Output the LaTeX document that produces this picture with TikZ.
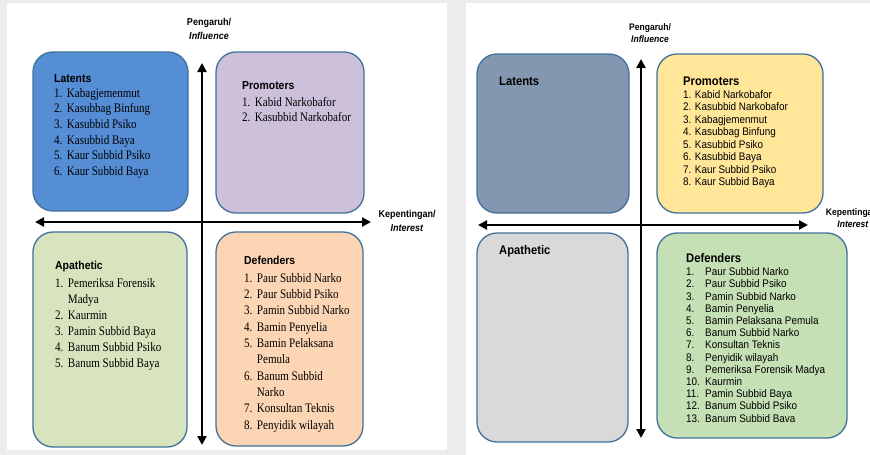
\documentclass[tikz,border=0pt]{standalone}
\usepackage{fontspec}
\setmainfont{Liberation Serif}[FakeStretch=0.85]
\setsansfont{Liberation Sans}[FakeStretch=0.9]
\usetikzlibrary{arrows.meta,positioning,calc}

\definecolor{bggray}{HTML}{ECECEC}
\definecolor{qline}{HTML}{41719C}
\definecolor{latL}{HTML}{558ED5}
\definecolor{proL}{HTML}{CCC0DA}
\definecolor{apaL}{HTML}{D7E4BD}
\definecolor{defL}{HTML}{FCD5B5}
\definecolor{latR}{HTML}{8497B0}
\definecolor{proR}{HTML}{FFE699}
\definecolor{apaR}{HTML}{D9D9D9}
\definecolor{defR}{HTML}{C5E0B4}

\begin{document}
\begin{tikzpicture}[
  x=1pt, y=-1pt,
  quad/.style={rectangle, draw=qline, line width=1.3pt, rounded corners=20pt, inner sep=0pt},
  hdrL/.style={anchor=base west, inner sep=0pt, font=\sffamily\bfseries\fontsize{11.6}{14}\selectfont},
  hdrR/.style={anchor=base west, inner sep=0pt, font=\sffamily\bfseries\fontsize{12.5}{15}\selectfont},
  lstL/.style={anchor=base west, inner sep=0pt, font=\fontsize{13}{#1}\selectfont},
  lstL/.default=15.6,
  lstR/.style={anchor=base west, inner sep=0pt, font=\sffamily\fontsize{11}{#1}\selectfont},
  lstR/.default=12.5,
  axlbl/.style={align=center, inner sep=0pt, font=\sffamily\bfseries\fontsize{10}{14.5}\selectfont},
  axlblR/.style={align=center, inner sep=0pt, font=\sffamily\bfseries\fontsize{9.5}{12}\selectfont},
  axis/.style={<->, >={Triangle[length=9pt,width=9pt]}, line width=2.4pt}
]
  \useasboundingbox (0,0) rectangle (870,455);
  % Background and the two panels
  \fill[bggray] (0,0) rectangle (870,455);
  \fill[white] (7,3) rectangle (447,450);
  \fill[white] (466,3) rectangle (870,455);

  % ---------------- Left panel ----------------
  \node[quad, fill=latL, minimum width=155pt, minimum height=159pt] (latl) at (110.5,131.5) {};
  \node[quad, fill=proL, minimum width=148pt, minimum height=161pt] (prol) at (290,132.5) {};
  \node[quad, fill=apaL, minimum width=154pt, minimum height=215pt] (apal) at (110,339.5) {};
  \node[quad, fill=defL, minimum width=147pt, minimum height=214pt] (defl) at (289.5,339) {};
  % Axes
  \coordinate (lUp) at (202,63);
  \coordinate (lDown) at (202,445);
  \coordinate (lLeft) at (35,222);
  \coordinate (lRight) at (371,222);
  \draw[axis] (lDown) -- (lUp);
  \draw[axis] (lLeft) -- (lRight);
  \node[axlbl] (inflL) at (209,29) {Pengaruh/\\\textit{Influence}};
  \node[axlbl] (intL) at (407,221) {Kepentingan/\\\textit{Interest}};
  % Quadrant texts
  \node[hdrL] (latlHdr) at (54,82) {Latents};
  \node[lstL] (latlLst) at (54,97.3) {\begin{tabular}[t]{@{}l@{\hspace{4.5pt}}l@{}}
    1.&Kabagjemenmut\\ 2.&Kasubbag Binfung\\ 3.&Kasubbid Psiko\\
    4.&Kasubbid Baya\\ 5.&Kaur Subbid Psiko\\ 6.&Kaur Subbid Baya\end{tabular}};
  \node[hdrL] (prolHdr) at (242,89) {Promoters};
  \node[lstL] (prolLst) at (242,106) {\begin{tabular}[t]{@{}l@{\hspace{4.5pt}}l@{}}
    1.&Kabid Narkobafor\\ 2.&Kasubbid Narkobafor\end{tabular}};
  \node[hdrL] (apalHdr) at (55,269.5) {Apathetic};
  \node[lstL=16.1] (apalLst) at (55,287.3) {\begin{tabular}[t]{@{}l@{\hspace{4.5pt}}l@{}}
    1.&Pemeriksa Forensik\\ &Madya\\ 2.&Kaurmin\\ 3.&Pamin Subbid Baya\\
    4.&Banum Subbid Psiko\\ 5.&Banum Subbid Baya\end{tabular}};
  \node[hdrL] (deflHdr) at (244,264) {Defenders};
  \node[lstL=16.3] (deflLst) at (244,282.3) {\begin{tabular}[t]{@{}l@{\hspace{4.5pt}}l@{}}
    1.&Paur Subbid Narko\\ 2.&Paur Subbid Psiko\\ 3.&Pamin Subbid Narko\\
    4.&Bamin Penyelia\\ 5.&Bamin Pelaksana\\ &Pemula\\ 6.&Banum Subbid\\ &Narko\\
    7.&Konsultan Teknis\\ 8.&Penyidik wilayah\end{tabular}};

  % ---------------- Right panel ----------------
  \node[quad, fill=latR, minimum width=152pt, minimum height=159pt] (latr) at (553,133.5) {};
  \node[quad, fill=proR, minimum width=166pt, minimum height=159pt] (pror) at (740,133.5) {};
  \node[quad, fill=apaR, minimum width=151pt, minimum height=209pt] (apar) at (552.5,337.5) {};
  \node[quad, fill=defR, minimum width=190pt, minimum height=205pt] (defr) at (752,335.5) {};
  % Axes
  \coordinate (rUp) at (641,59);
  \coordinate (rDown) at (641,438);
  \coordinate (rLeft) at (478,225);
  \coordinate (rRight) at (808,225);
  \draw[axis] (rDown) -- (rUp);
  \draw[axis] (rLeft) -- (rRight);
  \node[axlblR] (inflR) at (650,33) {Pengaruh/\\\textit{Influence}};
  \node[axlblR] (intR) at (853,218) {Kepentingan/\\\textit{Interest}};
  % Quadrant texts
  \node[hdrR] (latrHdr) at (499,85) {Latents};
  \node[hdrR] (prorHdr) at (683,85) {Promoters};
  \node[lstR] (prorLst) at (683,98.3) {\begin{tabular}[t]{@{}l@{\hspace{3.5pt}}l@{}}
    1.&Kabid Narkobafor\\ 2.&Kasubbid Narkobafor\\ 3.&Kabagjemenmut\\
    4.&Kasubbag Binfung\\ 5.&Kasubbid Psiko\\ 6.&Kasubbid Baya\\
    7.&Kaur Subbid Psiko\\ 8.&Kaur Subbid Baya\end{tabular}};
  \node[hdrR] (aparHdr) at (499,254.5) {Apathetic};
  \node[hdrR] (defrHdr) at (686,262.7) {Defenders};
  \node[lstR=12.2] (defrLst) at (686,275.7) {\begin{tabular}[t]{@{}p{19pt}@{}l@{}}
    1.&Paur Subbid Narko\\ 2.&Paur Subbid Psiko\\ 3.&Pamin Subbid Narko\\
    4.&Bamin Penyelia\\ 5.&Bamin Pelaksana Pemula\\ 6.&Banum Subbid Narko\\
    7.&Konsultan Teknis\\ 8.&Penyidik wilayah\\ 9.&Pemeriksa Forensik Madya\\
    10.&Kaurmin\\ 11.&Pamin Subbid Baya\\ 12.&Banum Subbid Psiko\\
    13.&Banum Subbid Bava\end{tabular}};
\end{tikzpicture}
\end{document}
